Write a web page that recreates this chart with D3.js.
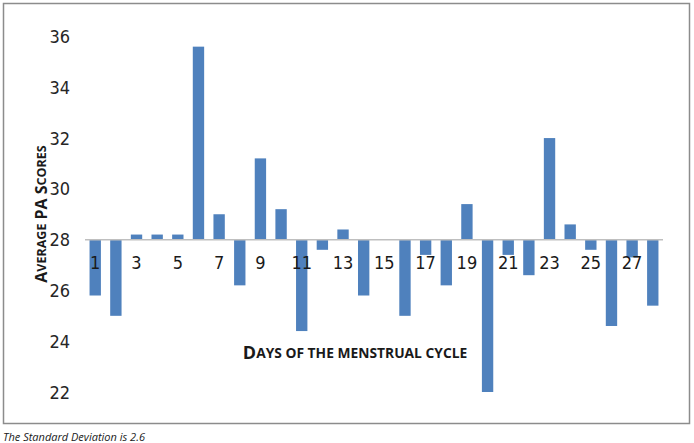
<!DOCTYPE html>
<html>
<head>
<meta charset="utf-8">
<script src="https://cdn.jsdelivr.net/npm/d3@7"></script>
<style>
  body { margin: 0; background: #fff; }
  svg text { font-family: "Liberation Sans Narrow", "DejaVu Sans Condensed", "Open Sans", sans-serif; }
</style>
</head>
<body>
<div class="chart"></div>
<script>
// days of the cycle and the average PA score for each
var days = d3.range(1, 29);
var scores = [25.8, 25.0, 28.2, 28.2, 28.2, 35.6, 29.0, 26.2, 31.2, 29.2,
              24.4, 27.6, 28.4, 25.8, 28.0, 25.0, 27.4, 26.2, 29.4, 22.0,
              27.4, 26.6, 32.0, 28.6, 27.6, 24.6, 27.3, 25.4];
var yTicks = [22, 24, 26, 28, 30, 32, 34, 36];
var baseline = 28;

var w = 694, h = 443;

var svg = d3.select("div.chart")
            .append("svg")
            .attr("width", w)
            .attr("height", h);

// outer frame
svg.append("rect")
    .attr("x", 3.5).attr("y", 3.5)
    .attr("width", 686).attr("height", 420)
    .attr("fill", "none")
    .attr("stroke", "#8c8c8c")
    .attr("stroke-width", 1.5);

var x = d3.scaleBand()
    .domain(days)
    .range([85, 663])
    .paddingInner(0.45)
    .paddingOuter(0.22);

var y = d3.scaleLinear()
    .domain([22, 36])
    .range([392, 36.5]);

// bars grow up or down from 28
svg.selectAll(".bar")
    .data(days)
    .enter()
    .append("rect")
    .attr("class", "bar")
    .attr("x", function(d){ return x(d); })
    .attr("width", x.bandwidth())
    .attr("y", function(d, i){ return y(Math.max(scores[i], baseline)); })
    .attr("height", function(d, i){ return Math.abs(y(scores[i]) - y(baseline)); })
    .attr("fill", "#4f81bd");

// horizontal axis line at 28
svg.append("line")
    .attr("x1", 85).attr("x2", 663)
    .attr("y1", y(baseline)).attr("y2", y(baseline))
    .attr("stroke", "#bfbfbf")
    .attr("stroke-width", 1.5);

// y tick labels
svg.selectAll(".ytick")
    .data(yTicks)
    .enter()
    .append("text")
    .attr("x", 70)
    .attr("y", function(d){ return y(d); })
    .attr("text-anchor", "end")
    .attr("dominant-baseline", "central")
    .attr("font-size", 18)
    .attr("fill", "#262626")
    .text(function(d){ return d; });

// x tick labels, odd days only
svg.selectAll(".xtick")
    .data(days.filter(function(d){ return d % 2 == 1; }))
    .enter()
    .append("text")
    .attr("x", function(d){ return x(d) + x.bandwidth() / 2; })
    .attr("y", 262)
    .attr("text-anchor", "middle")
    .attr("dominant-baseline", "central")
    .attr("font-size", 18)
    .attr("fill", "#1a1a1a")
    .text(function(d){ return d; });

// small caps by hand: capitals at full size, the rest upper-cased smaller
function smallCaps(sel, str, big, small) {
  str.split(" ").forEach(function(word, wi){
    var head = word.charAt(0), rest = word.slice(1);
    var isCap = head === head.toUpperCase();
    sel.append("tspan")
       .attr("font-size", isCap ? big : small)
       .text((wi > 0 ? " " : "") + head.toUpperCase());
    if (rest.length) {
      var allCaps = rest === rest.toUpperCase();
      sel.append("tspan")
         .attr("font-size", allCaps ? big : small)
         .text(rest.toUpperCase());
    }
  });
}

// axis titles
var ytitle = svg.append("text")
    .attr("transform", "translate(41,214) rotate(-90)")
    .attr("text-anchor", "middle")
    .attr("dominant-baseline", "central")
    .attr("font-weight", "bold")
    .style("font-family", "'Open Sans', sans-serif")
    .attr("fill", "#1a1a1a");
smallCaps(ytitle, "Average PA Scores", 16, 12.5);

var xtitle = svg.append("text")
    .attr("x", 355)
    .attr("y", 352)
    .attr("text-anchor", "middle")
    .attr("dominant-baseline", "central")
    .attr("font-weight", "bold")
    .style("font-family", "'Open Sans', sans-serif")
    .attr("fill", "#1a1a1a");
smallCaps(xtitle, "Days of the menstrual cycle", 18, 13.8);

// footnote
svg.append("text")
    .attr("x", 3)
    .attr("y", 436)
    .attr("dominant-baseline", "central")
    .attr("font-size", 11)
    .attr("font-style", "italic")
    .attr("fill", "#1a1a1a")
    .style("font-family", "'Open Sans', sans-serif")
    .text("The Standard Deviation is 2.6");
</script>
</body>
</html>
